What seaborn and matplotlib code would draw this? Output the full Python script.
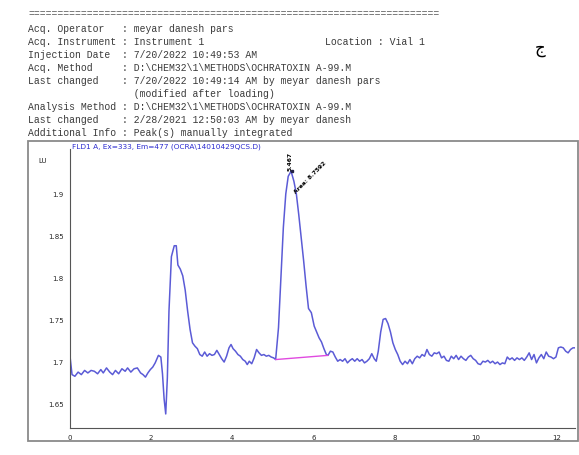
import matplotlib
matplotlib.use("Agg")
import matplotlib.pyplot as plt
import seaborn as sns
import pandas as pd
from matplotlib.patches import Rectangle

# ---------------- data ----------------
time_min = [0.00, 0.05, 0.12, 0.20, 0.28, 0.36, 0.44, 0.52, 0.60, 0.68, 0.76, 0.82, 0.90, 0.98,
            1.05, 1.12, 1.20, 1.28, 1.36, 1.42, 1.50, 1.58, 1.66, 1.74, 1.80, 1.86, 1.92, 1.98,
            2.04, 2.10, 2.18, 2.24, 2.28, 2.32, 2.36, 2.40, 2.44, 2.50, 2.57, 2.62, 2.66, 2.72,
            2.78, 2.84, 2.90, 2.96, 3.02, 3.08, 3.14, 3.20, 3.26, 3.32, 3.38, 3.44, 3.50, 3.56,
            3.62, 3.68, 3.74, 3.80, 3.86, 3.92, 3.97, 4.02, 4.08, 4.14, 4.20, 4.26, 4.32, 4.37,
            4.42, 4.48, 4.54, 4.60, 4.66, 4.72, 4.78, 4.84, 4.90, 4.96, 5.02, 5.07, 5.14, 5.20,
            5.26, 5.32, 5.38, 5.45, 5.52, 5.58, 5.64, 5.70, 5.76, 5.82, 5.88, 5.95, 6.02, 6.08,
            6.14, 6.20, 6.26, 6.32, 6.36, 6.42, 6.48, 6.54, 6.60, 6.66, 6.72, 6.78, 6.84, 6.90,
            6.96, 7.02, 7.08, 7.14, 7.20, 7.26, 7.32, 7.38, 7.44, 7.50, 7.55, 7.60, 7.66, 7.72,
            7.78, 7.84, 7.90, 7.96, 8.02, 8.08, 8.14, 8.20, 8.26, 8.32, 8.38, 8.44, 8.50, 8.56,
            8.62, 8.68, 8.74, 8.80, 8.86, 8.92, 8.98, 9.04, 9.10, 9.16, 9.22, 9.28, 9.34, 9.40,
            9.46, 9.52, 9.58, 9.64, 9.70, 9.76, 9.82, 9.88, 9.94, 10.00, 10.06, 10.12, 10.18,
            10.24, 10.30, 10.36, 10.42, 10.48, 10.54, 10.60, 10.66, 10.72, 10.78, 10.84, 10.90,
            10.96, 11.02, 11.08, 11.14, 11.20, 11.26, 11.32, 11.38, 11.44, 11.50, 11.56, 11.62,
            11.68, 11.74, 11.80, 11.86, 11.92, 11.98, 12.04, 12.10, 12.16, 12.22, 12.28, 12.34,
            12.40, 12.46]
signal_lu = [1.706, 1.684, 1.682, 1.687, 1.684, 1.689, 1.686, 1.689, 1.688, 1.685, 1.690, 1.686, 1.692, 1.687,
             1.684, 1.689, 1.685, 1.691, 1.688, 1.692, 1.687, 1.691, 1.692, 1.686, 1.684, 1.681, 1.686, 1.690,
             1.693, 1.698, 1.707, 1.705, 1.685, 1.655, 1.637, 1.680, 1.760, 1.825, 1.838, 1.838, 1.815, 1.810,
             1.802, 1.785, 1.760, 1.738, 1.722, 1.718, 1.715, 1.708, 1.706, 1.711, 1.706, 1.709, 1.707, 1.708,
             1.713, 1.708, 1.703, 1.699, 1.706, 1.716, 1.720, 1.715, 1.712, 1.708, 1.706, 1.702, 1.700, 1.696,
             1.700, 1.697, 1.704, 1.714, 1.710, 1.707, 1.708, 1.706, 1.707, 1.705, 1.704, 1.702, 1.740, 1.800,
             1.860, 1.900, 1.921, 1.927, 1.915, 1.900, 1.875, 1.848, 1.820, 1.790, 1.763, 1.758, 1.742, 1.735,
             1.728, 1.723, 1.715, 1.708, 1.707, 1.712, 1.711, 1.705, 1.700, 1.702, 1.700, 1.703, 1.698, 1.701,
             1.703, 1.700, 1.703, 1.700, 1.702, 1.698, 1.700, 1.703, 1.709, 1.703, 1.700, 1.712, 1.735, 1.750,
             1.751, 1.745, 1.735, 1.722, 1.714, 1.708, 1.700, 1.696, 1.700, 1.697, 1.702, 1.697, 1.703, 1.706,
             1.704, 1.708, 1.706, 1.714, 1.708, 1.706, 1.710, 1.709, 1.711, 1.704, 1.706, 1.701, 1.700, 1.706,
             1.703, 1.707, 1.702, 1.706, 1.703, 1.701, 1.705, 1.707, 1.703, 1.701, 1.697, 1.696, 1.700,
             1.699, 1.701, 1.698, 1.700, 1.697, 1.699, 1.696, 1.698, 1.697, 1.705, 1.702, 1.704,
             1.701, 1.704, 1.702, 1.704, 1.701, 1.705, 1.710, 1.702, 1.708, 1.698, 1.704, 1.708,
             1.703, 1.711, 1.706, 1.705, 1.703, 1.705, 1.716, 1.717, 1.716, 1.712, 1.710, 1.714,
             1.716, 1.716]

baseline_time = [5.07, 6.36]
baseline_lu = [1.702, 1.707]

peak_rt = 5.467
peak_height = 1.927
peak_area_label = "Area: 8.7592"
peak_rt_label = "5.467"

chart_title = "FLD1 A, Ex=333, Em=477 (OCRA\\14010429QCS.D)"
y_unit = "LU"
x_ticks = [0, 2, 4, 6, 8, 10, 12]
y_ticks = [1.65, 1.7, 1.75, 1.8, 1.85, 1.9]
y_tick_labels = ["1.65", "1.7", "1.75", "1.8", "1.85", "1.9"]

header_lines = [
    "Acq. Operator   : meyar danesh pars",
    "Acq. Instrument : Instrument 1",
    "Injection Date  : 7/20/2022 10:49:53 AM",
    "Acq. Method     : D:\\CHEM32\\1\\METHODS\\OCHRATOXIN A-99.M",
    "Last changed    : 7/20/2022 10:49:14 AM by meyar danesh pars",
    "                  (modified after loading)",
    "Analysis Method : D:\\CHEM32\\1\\METHODS\\OCHRATOXIN A-99.M",
    "Last changed    : 2/28/2021 12:50:03 AM by meyar danesh",
    "Additional Info : Peak(s) manually integrated",
]
location_text = "Location : Vial 1"
corner_letter = "ج"

# ---------------- figure ----------------
sns.set_style("white")
plt.rcParams['font.family'] = ['DejaVu Sans']

W, H = 579, 456
fig = plt.figure(figsize=(W / 100, H / 100), dpi=100)

def fx(px):
    return px / W

def fy(py):
    return 1 - py / H

# header text
mono = "Liberation Mono"
fig.text(fx(28), fy(14), "=" * 70, family=mono, fontsize=7, color="#555555", va="center", ha="left")
for i, line in enumerate(header_lines):
    fig.text(fx(28), fy(29 + 13 * i), line, family=mono, fontsize=7, color="#3a3a3a",
             va="center", ha="left")
fig.text(fx(325), fy(42), location_text, family=mono, fontsize=7, color="#3a3a3a",
         va="center", ha="left")
fig.text(fx(540), fy(48), corner_letter, family="DejaVu Sans", fontsize=12, color="black",
         va="center", ha="center")

# outer frame
fig.patches.append(Rectangle((fx(28), fy(442)), fx(578) - fx(28), fy(142) - fy(442),
                             transform=fig.transFigure, fill=False, edgecolor="#8a8a8a", lw=1.3))

ax = fig.add_axes([fx(70), fy(429), fx(575) - fx(70), fy(150) - fy(429)])

df = pd.DataFrame({"time": time_min, "signal": signal_lu})
sns.lineplot(data=df, x="time", y="signal", ax=ax, color="#5b5bd6", lw=1.1, sort=False)
bdf = pd.DataFrame({"time": baseline_time, "signal": baseline_lu})
sns.lineplot(data=bdf, x="time", y="signal", ax=ax, color="#e04ae0", lw=1.0)

ax.set_xlim(0, 12.45)
ax.set_ylim(1.6202, 1.9536)
ax.set_xlabel("")
ax.set_ylabel("")

ax.set_xticks(x_ticks)
ax.set_xticklabels([str(v) for v in x_ticks])
ax.set_xticks([v / 2 for v in range(0, 25)], minor=True)
ax.set_yticks(y_ticks)
ax.set_yticklabels(y_tick_labels)
ax.set_yticks([1.63 + 0.01 * i for i in range(33)], minor=True)

ax.tick_params(axis="both", which="major", labelsize=5, length=3, width=0.6, color="#444444",
               pad=1.5, direction="out")
ax.tick_params(axis="both", which="minor", length=1.8, width=0.5, color="#444444", direction="out")
ax.tick_params(axis="x", which="minor", direction="in")

for s in ["top", "right"]:
    ax.spines[s].set_visible(False)
for s in ["left", "bottom"]:
    ax.spines[s].set_color("#555555")
    ax.spines[s].set_linewidth(0.8)

ax.text(-0.045, 1.9405, y_unit, transform=ax.get_yaxis_transform(), fontsize=5,
        ha="right", va="center", color="#222222")
ax.text(fx(72), fy(147), chart_title, transform=fig.transFigure, fontsize=5.3,
        color="#2b2bd0", ha="left", va="center")

# peak annotations
ax.plot([peak_rt], [peak_height], marker="s", ms=1.5, color="#222244")
ax.text(peak_rt - 0.03, peak_height + 0.002, peak_rt_label, rotation=90, fontsize=4.3,
        ha="center", va="bottom", color="black", fontweight="bold")
ax.text(peak_rt + 0.12, 1.900, peak_area_label, rotation=45, fontsize=4.3,
        ha="left", va="bottom", color="black", rotation_mode="anchor", fontweight="bold")

fig.savefig("out.png", dpi=100)
